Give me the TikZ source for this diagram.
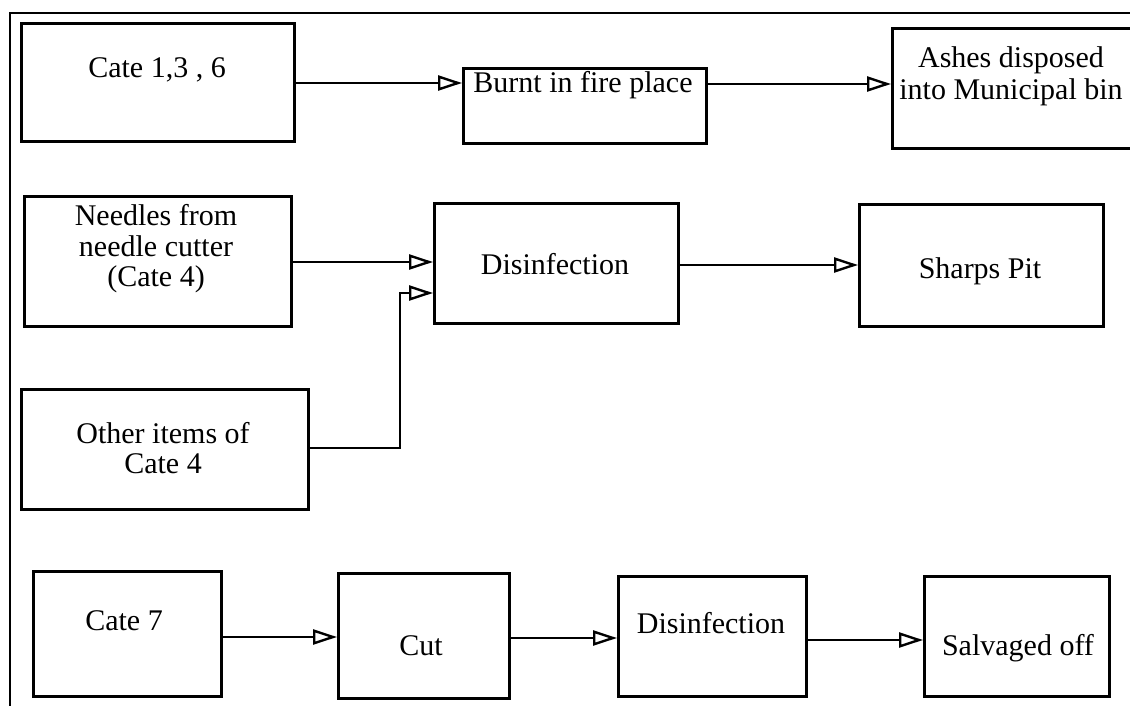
\documentclass[tikz,border=0pt]{standalone}
\usepackage{fontspec}
\setmainfont{Liberation Serif}
\usetikzlibrary{arrows.meta}
\begin{document}
\begin{tikzpicture}[x=1pt,y=-1pt,
  box/.style={draw, line width=3pt, inner sep=0pt, anchor=north west},
  lbl/.style={font=\fontsize{30}{34}\selectfont, anchor=base, inner sep=0pt},
  flow/.style={line width=2.4pt, -{Triangle[open, length=24pt, width=15pt, line width=2.4pt]}},
  frame/.style={line width=2pt}
]
\useasboundingbox (0,0) rectangle (1130,706);

% page frame (top and left rules)
\coordinate (fl) at (10,706);
\coordinate (fc) at (10,13);
\coordinate (fr) at (1130,13);
\draw[frame] (fl) -- (fc) -- (fr);

% top row
\node[box, minimum width=273pt, minimum height=118pt] (c136) at (20,22) {};
\node[lbl] (t136) at (157,78) {Cate 1,3 , 6};
\node[box, minimum width=243pt, minimum height=75pt] (burnt) at (462,67) {};
\node[lbl] (tburnt) at (583,93) {Burnt in fire place};
\node[box, minimum width=250pt, minimum height=120pt] (ashes) at (891,27) {};
\node[lbl] (tashes1) at (1011,68) {Ashes disposed};
\node[lbl] (tashes2) at (1011,100) {into Municipal bin};

% middle group
\node[box, minimum width=267pt, minimum height=130pt] (needles) at (23,195) {};
\node[lbl] (tneed1) at (156,225) {Needles from};
\node[lbl] (tneed2) at (156,256) {needle cutter};
\node[lbl] (tneed3) at (156,286) {(Cate 4)};
\node[box, minimum width=287pt, minimum height=120pt] (other) at (20,388) {};
\node[lbl] (tother1) at (163,443) {Other items of};
\node[lbl] (tother2) at (163,473) {Cate 4};
\node[box, minimum width=244pt, minimum height=120pt] (dismid) at (433,202) {};
\node[lbl] (tdismid) at (555,274) {Disinfection};
\node[box, minimum width=244pt, minimum height=122pt] (sharps) at (858,203) {};
\node[lbl] (tsharps) at (980,278) {Sharps Pit};

% bottom row
\node[box, minimum width=188pt, minimum height=125pt] (cate7) at (32,570) {};
\node[lbl] (tcate7) at (124,630) {Cate 7};
\node[box, minimum width=171pt, minimum height=125pt] (cut) at (337,572) {};
\node[lbl] (tcut) at (421,655) {Cut};
\node[box, minimum width=188pt, minimum height=120pt] (disbot) at (617,575) {};
\node[lbl] (tdisbot) at (711,633) {Disinfection};
\node[box, minimum width=185pt, minimum height=120pt] (salv) at (923,575) {};
\node[lbl] (tsalv) at (1018,655) {Salvaged off};

% connectors
\draw[flow] (c136.east |- 0,83) -- (burnt.west |- 0,83);
\draw[flow] (burnt.east |- 0,84) -- (ashes.west |- 0,84);
\draw[flow] (needles.east |- 0,262) -- (dismid.west |- 0,262);
\draw[flow] (other.east |- 0,448) -| ([xshift=-33pt]dismid.west |- 0,293) -- (dismid.west |- 0,293);
\draw[flow] (dismid.east |- 0,265) -- (sharps.west |- 0,265);
\draw[flow] (cate7.east |- 0,637) -- (cut.west |- 0,637);
\draw[flow] (cut.east |- 0,638) -- (disbot.west |- 0,638);
\draw[flow] (disbot.east |- 0,640) -- (salv.west |- 0,640);
\end{tikzpicture}
\end{document}
